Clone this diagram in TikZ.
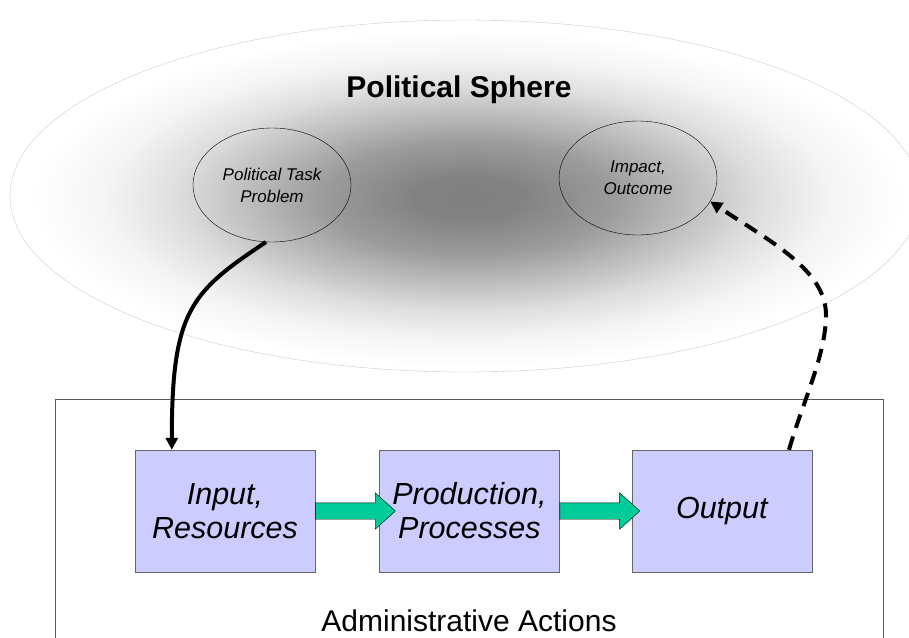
\documentclass[tikz,border=0pt]{standalone}
\usepackage{fontspec}
\setmainfont{Liberation Sans}
\usetikzlibrary{positioning,shapes.geometric,shapes.arrows,arrows.meta}
\definecolor{boxfill}{RGB}{204,204,255}
\definecolor{flowgreen}{RGB}{0,204,153}
\pgfdeclareradialshading{sphereshade}{\pgfpoint{0bp}{0bp}}{color(0bp)=(black!50); color(3bp)=(black!49); color(8bp)=(black!39); color(12bp)=(black!26); color(16bp)=(black!13); color(20bp)=(black!4); color(24bp)=(white); color(50bp)=(white)}
\tikzset{
  stage/.style={draw=black!60, fill=boxfill, minimum width=180pt, minimum height=122pt, inner sep=0pt,
    align=center, font=\fontsize{30.5}{34}\selectfont\itshape},
  bubble/.style={draw, ellipse, minimum width=158pt, minimum height=114pt, inner sep=0pt,
    align=center, font=\fontsize{17}{22}\selectfont\itshape},
  flow/.style={single arrow, draw, fill=flowgreen, minimum height=80pt, minimum width=36pt,
    single arrow head extend=10pt, single arrow tip angle=84, inner xsep=0pt, inner ysep=8pt, anchor=west},
  feedback/.style={line width=4pt, -{Triangle[width=12pt,length=12pt]}},
}
\begin{document}
\begin{tikzpicture}[x=1pt, y=-1pt]
    \clip (0,0) rectangle (909,637);
    % political sphere
    \shade[shading=sphereshade] (468,198) ellipse [x radius=455, y radius=176];
    \draw[black!20, line width=0.4pt] (465,196) ellipse [x radius=455, y radius=176];
    \node[anchor=base, font=\fontsize{30}{34}\selectfont\bfseries] (sphere) at (459,97) {Political Sphere};
    \node[bubble] (task) at (272,185) {Political Task\\Problem};
    \node[bubble] (impact) at (638,178) {Impact,\\Outcome};
    % administration
    \draw[black!65] (55,399) rectangle (883,660);
    \node[stage] (input) at (225,511) {Input,\\Resources};
    \node[stage, right=64pt of input] (production) {Production,\\Processes};
    \node[stage, right=72pt of production] (output) {Output};
    \node[anchor=base, font=\fontsize{30}{34}\selectfont] (admin) at (469,631) {Administrative Actions};
    \node[flow] (flowa) at (input.east) {};
    \node[flow] (flowb) at (production.east) {};
    % connectors
    \draw[feedback] (task.-96) .. controls +(-75,50) and +(0,-140) .. ([xshift=37pt]input.north west);
    \coordinate (bend) at (826,315);
    \draw[feedback, dash pattern=on 14pt off 9pt] ([xshift=-23pt]output.north east)
        .. controls +(13,-46) and +(0,40) .. (bend)
        .. controls +(0,-45) and +(60,40) .. (impact.-18);
\end{tikzpicture}
\end{document}
